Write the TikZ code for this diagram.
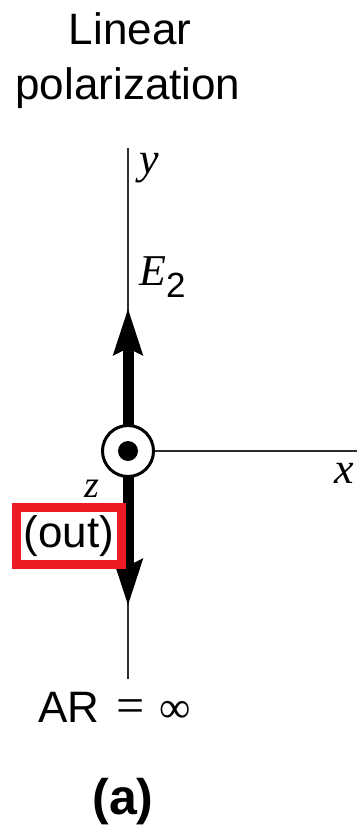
\documentclass[tikz,border=0pt]{standalone}
\usepackage{fontspec}
\setmainfont{Liberation Sans}
\newfontfamily\axisfont{Liberation Serif}
\usepackage{tikz}
\usetikzlibrary{arrows.meta,positioning,backgrounds}
\definecolor{boxred}{HTML}{ED1C24}
\definecolor{axisgrey}{HTML}{2D2D2D}
\tikzset{
  lbl/.style={font=\fontsize{44}{53}\selectfont,inner sep=0pt},
  axlbl/.style={font=\fontsize{44}{53}\selectfont\axisfont\itshape,inner sep=0pt},
  axisline/.style={draw=axisgrey,line width=2.2pt},
  field/.style={line width=11pt,-{Stealth[length=46pt,width=28pt,inset=6pt]}}
}

\begin{document}
\begin{tikzpicture}[x=1pt,y=-1pt]
  \useasboundingbox (0,0) rectangle (357,832);
  \node[lbl,anchor=base] (title1) at (130,45) {Linear};
  \node[lbl,anchor=base] (title2) at (128,100) {polarization};
  \node[circle,draw,line width=3pt,fill=white,minimum size=51pt,inner sep=0pt] (o) at (128,451) {};
  \node[circle,fill=black,minimum size=20pt,inner sep=0pt] (dot) at (o.center) {};
  \coordinate (ytop) at (128,148);
  \coordinate (ybot) at (128,679);
  \coordinate (xend) at (357,451);
  \coordinate (uptip) at (128,308);
  \coordinate (downtip) at (128,606);
  \begin{scope}[on background layer]
    \draw[axisline] (ytop) -- (ybot);
    \draw[axisline] (o.center) -- (xend);
    \draw[field] (o.center) -- (uptip);
    \draw[field] (o.center) -- (downtip);
  \end{scope}
  \node[axlbl,anchor=base west] (ylab) at (139,173) {y};
  \node[axlbl,anchor=base west] (elab) at (139,285) {E\raisebox{-12pt}{\upshape\fontsize{35}{40}\selectfont\rmfamily 2}};
  \node[axlbl,anchor=base west] (xlab) at (334,483) {x};
  \node[axlbl,anchor=base west,font=\fontsize{38}{45}\selectfont\axisfont\itshape] (zlab) at (84,497) {z};
  \node[lbl,draw=boxred,line width=9pt,fill=white,minimum width=105pt,minimum height=57.5pt] (out) at (69,535.75) {(out)};
  \node[lbl,anchor=base west] (ar) at (38,722) {AR\hspace{17pt}{\axisfont\fontsize{50}{60}\selectfont=}\hspace{15pt}{\axisfont ∞}};
  \node[lbl,anchor=base,font=\fontsize{50}{60}\selectfont\bfseries] (cap) at (123,814) {(a)};
\end{tikzpicture}
\end{document}
